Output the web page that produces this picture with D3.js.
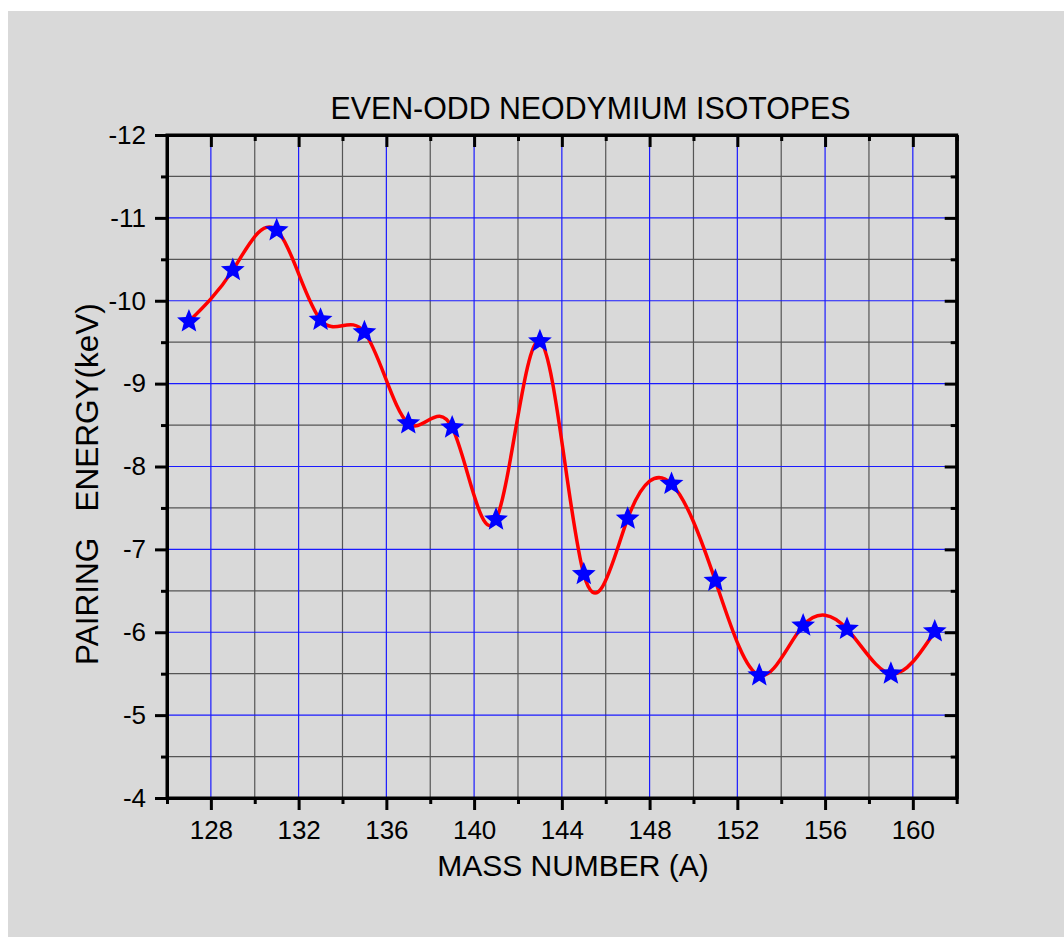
<!DOCTYPE html>
<html>
<head>
<meta charset="utf-8">
<script src="https://cdn.jsdelivr.net/npm/d3@7"></script>
<style>
  html, body { margin: 0; padding: 0; background: #ffffff; }
  svg { display: block; }
  text { font-family: "Liberation Sans", Arial, sans-serif; fill: #000; }
</style>
</head>
<body>
<svg id="chart" width="1064" height="937"></svg>
<script>
// Pairing energy of even-odd neodymium isotopes
const massNumbers = [127, 129, 131, 133, 135, 137, 139, 141, 143, 145, 147, 149, 151, 153, 155, 157, 159, 161];
const pairingEnergy = [-9.75, -10.37, -10.85, -9.77, -9.62, -8.52, -8.47, -7.36, -9.51, -6.70, -7.37, -7.79, -6.62, -5.48, -6.08, -6.04, -5.50, -6.01];

const xMajorTicks = [128, 132, 136, 140, 144, 148, 152, 156, 160];
const xMinorTicks = [126, 130, 134, 138, 142, 146, 150, 154, 158, 162];
const yMajorTicks = [-12, -11, -10, -9, -8, -7, -6, -5, -4];
const yMinorTicks = [-11.5, -10.5, -9.5, -8.5, -7.5, -6.5, -5.5, -4.5];

const titleText = "EVEN-ODD NEODYMIUM ISOTOPES";
const xAxisTitle = "MASS NUMBER (A)";
const yAxisTitle = "PAIRING\u00A0\u00A0\u00A0ENERGY(keV)";

const svg = d3.select("#chart");

// panel background
svg.append("rect")
  .attr("x", 8).attr("y", 11)
  .attr("width", 1056).attr("height", 926)
  .attr("fill", "#d9d9d9");

const L = 167, R = 956.7, T = 135, B = 798;
const x = d3.scaleLinear().domain([126, 162]).range([L, R]);
const y = d3.scaleLinear().domain([-12, -4]).range([T, B]);

// grid: minor lines dark grey, major lines blue
const grid = svg.append("g");
grid.selectAll(".gxm").data(xMinorTicks.filter(d => d > 126 && d < 162)).join("line")
  .attr("x1", d => x(d)).attr("x2", d => x(d)).attr("y1", T).attr("y2", B)
  .attr("stroke", "#555555").attr("stroke-width", 1.2);
grid.selectAll(".gym").data(yMinorTicks).join("line")
  .attr("y1", d => y(d)).attr("y2", d => y(d)).attr("x1", L).attr("x2", R)
  .attr("stroke", "#555555").attr("stroke-width", 1.2);
grid.selectAll(".gxM").data(xMajorTicks).join("line")
  .attr("x1", d => x(d)).attr("x2", d => x(d)).attr("y1", T).attr("y2", B)
  .attr("stroke", "#1a1aff").attr("stroke-width", 1.2);
grid.selectAll(".gyM").data(yMajorTicks.filter(d => d > -12 && d < -4)).join("line")
  .attr("y1", d => y(d)).attr("y2", d => y(d)).attr("x1", L).attr("x2", R)
  .attr("stroke", "#1a1aff").attr("stroke-width", 1.2);

// axes
function styleAxis(g) {
  g.select(".domain").attr("stroke", "#000").attr("stroke-width", 3);
  g.selectAll(".tick line").attr("stroke", "#000").attr("stroke-width", 3);
  g.selectAll(".tick text").attr("font-size", "26px")
    .attr("font-family", "'Liberation Sans', Arial, sans-serif").attr("fill", "#000");
}

// plain hyphen-minus for negative labels
const fmt = d => String(d);

// bottom: major + minor ticks outward
svg.append("g").attr("transform", `translate(0,${B})`)
  .call(d3.axisBottom(x).tickValues(xMajorTicks).tickFormat(fmt).tickSize(12).tickSizeOuter(0).tickPadding(11))
  .call(styleAxis);
svg.append("g").attr("transform", `translate(0,${B})`)
  .call(d3.axisBottom(x).tickValues(xMinorTicks).tickFormat("").tickSize(6).tickSizeOuter(0))
  .call(styleAxis);

// top: ticks inward
svg.append("g").attr("transform", `translate(0,${T})`)
  .call(d3.axisBottom(x).tickValues(xMajorTicks).tickFormat("").tickSize(12).tickSizeOuter(0))
  .call(styleAxis);
svg.append("g").attr("transform", `translate(0,${T})`)
  .call(d3.axisBottom(x).tickValues(xMinorTicks).tickFormat("").tickSize(6).tickSizeOuter(0))
  .call(styleAxis);

// left: ticks outward
svg.append("g").attr("transform", `translate(${L},0)`)
  .call(d3.axisLeft(y).tickValues(yMajorTicks).tickFormat(fmt).tickSize(12).tickSizeOuter(0).tickPadding(9))
  .call(styleAxis);
svg.append("g").attr("transform", `translate(${L},0)`)
  .call(d3.axisLeft(y).tickValues(yMinorTicks).tickFormat("").tickSize(6).tickSizeOuter(0))
  .call(styleAxis);

// right: ticks inward
svg.append("g").attr("transform", `translate(${R},0)`)
  .call(d3.axisLeft(y).tickValues(yMajorTicks).tickFormat("").tickSize(12).tickSizeOuter(0))
  .call(styleAxis);
svg.append("g").attr("transform", `translate(${R},0)`)
  .call(d3.axisLeft(y).tickValues(yMinorTicks).tickFormat("").tickSize(6).tickSizeOuter(0))
  .call(styleAxis);

// closed frame
svg.append("rect").attr("x", L).attr("y", T).attr("width", R - L).attr("height", B - T)
  .attr("fill", "none").attr("stroke", "#000").attr("stroke-width", 3);

// spline through the data
const pts = massNumbers.map((m, i) => [m, pairingEnergy[i]]);
const line = d3.line().x(d => x(d[0])).y(d => y(d[1])).curve(d3.curveNatural);
svg.append("path").datum(pts)
  .attr("d", line)
  .attr("fill", "none").attr("stroke", "#ff0000").attr("stroke-width", 3.5);

// five-point star marker with a fuller body; size is the squared outer radius
const fullStar = {
  draw(context, size) {
    const r = Math.sqrt(size), ri = r * 0.44;
    for (let i = 0; i < 10; ++i) {
      const a = -Math.PI / 2 + i * Math.PI / 5;
      const rr = i % 2 ? ri : r;
      const px = rr * Math.cos(a), py = rr * Math.sin(a);
      if (i === 0) context.moveTo(px, py); else context.lineTo(px, py);
    }
    context.closePath();
  }
};
const star = d3.symbol().type(fullStar).size(12.5 * 12.5);
svg.selectAll(".pt").data(pts).join("path")
  .attr("transform", d => `translate(${x(d[0])},${y(d[1])})`)
  .attr("d", star)
  .attr("fill", "#0000ff");

// titles
svg.append("text")
  .attr("x", 590.5).attr("y", 119)
  .attr("text-anchor", "middle")
  .attr("font-size", "31px")
  .attr("textLength", 520).attr("lengthAdjust", "spacingAndGlyphs")
  .text(titleText);

svg.append("text")
  .attr("x", 573).attr("y", 876)
  .attr("text-anchor", "middle")
  .attr("font-size", "30px")
  .text(xAxisTitle);

svg.append("text")
  .attr("transform", `translate(98,665) rotate(-90)`)
  .attr("text-anchor", "start")
  .attr("font-size", "31.5px")
  .text(yAxisTitle);
</script>
</body>
</html>
